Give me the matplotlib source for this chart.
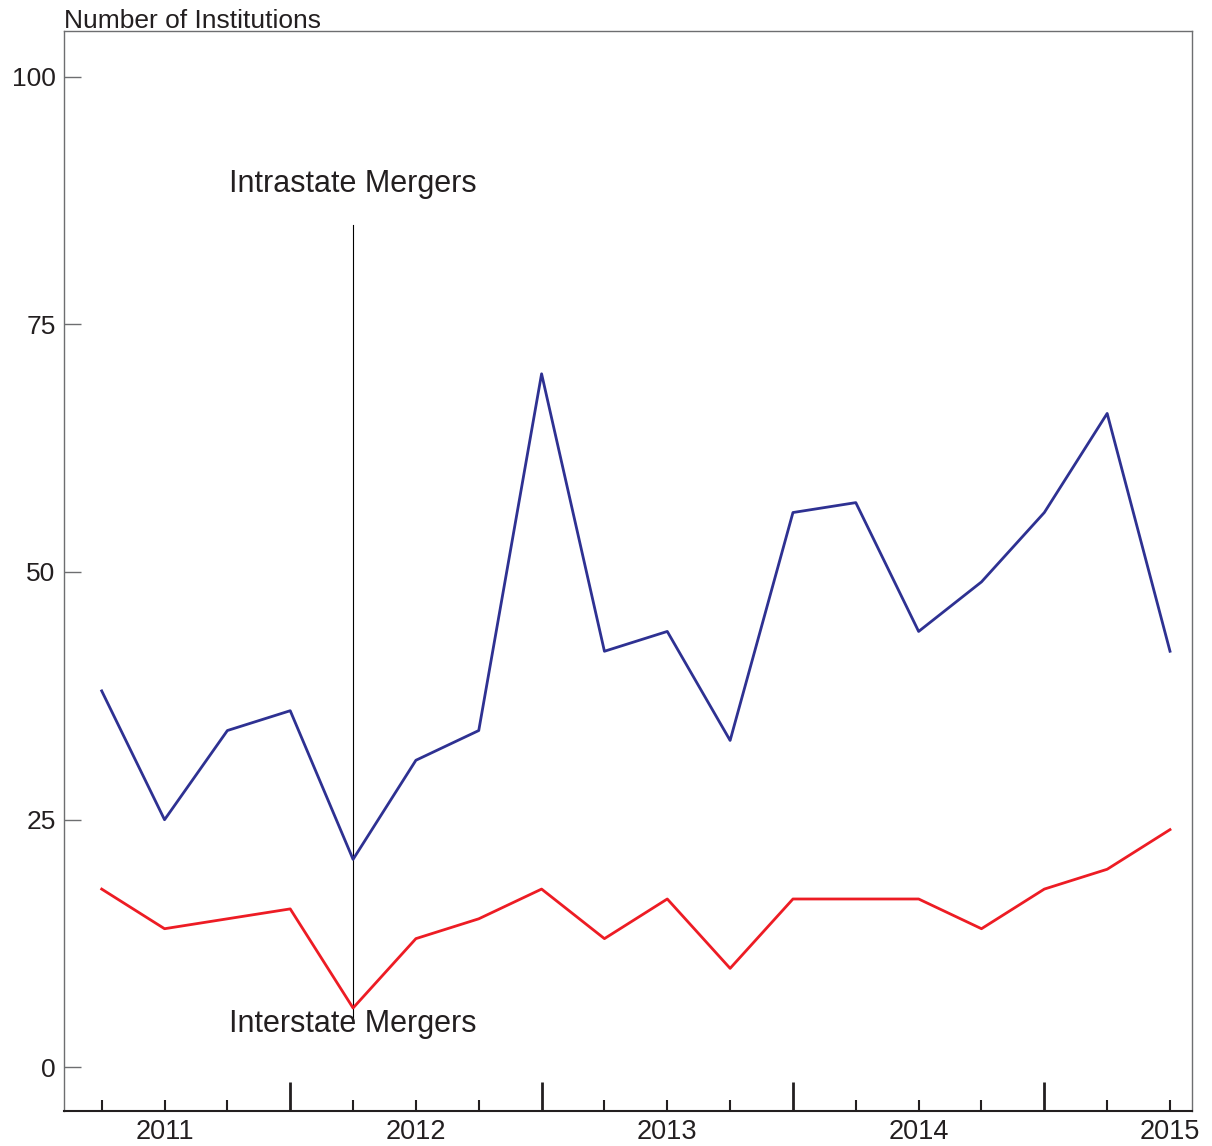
import matplotlib.pyplot as plt
import numpy as np

plt.rcParams['font.family'] = ['Liberation Sans', 'DejaVu Sans']

# quarterly, 2010 Q4 .. 2015 Q1
intrastate = [38, 25, 34, 36, 21, 31, 34, 70, 42, 44, 33, 56, 57, 44, 49, 56, 66, 42]
interstate = [18, 14, 15, 16, 6, 13, 15, 18, 13, 17, 10, 17, 17, 17, 14, 18, 20, 24]
year_labels = ["2011", "2012", "2013", "2014", "2015"]
year_pos = [1, 5, 9, 13, 17]
boundary_pos = [3, 7, 11, 15]
yticks = [0, 25, 50, 75, 100]

x = np.arange(len(intrastate))
txt = "#231f20"
spine = "#6d6e70"

fig = plt.figure(figsize=(12.12, 11.46), dpi=100)
ax = fig.add_axes([0.0528, 0.0305, 0.9307, 0.9425])

# marker line at the 2011 Q4 low
ax.plot([4, 4], [4.5, 85], color="black", lw=0.8, zorder=1)
ax.plot(x, intrastate, color="#2e3192", lw=2, zorder=2)
ax.plot(x, interstate, color="#ed1c24", lw=2, zorder=2)

ax.text(4, 89.2, "Intrastate Mergers", fontsize=22, color=txt,
        ha="center", va="center")
ax.text(4, 4.4, "Interstate Mergers", fontsize=22, color=txt,
        ha="center", va="center")

ax.set_xlim(-0.6, 17.35)
ax.set_ylim(-4.4, 104.6)

ax.set_yticks(yticks)
ax.set_yticklabels([str(v) for v in yticks])
ax.tick_params(axis="y", direction="in", length=12, width=1, color=spine,
               labelsize=19, labelcolor=txt, pad=6)

# long ticks at year boundaries, short ticks at every other quarter
ax.set_xticks(boundary_pos)
ax.set_xticklabels([""] * len(boundary_pos))
ax.tick_params(axis="x", which="major", direction="in", length=21,
               width=2, color=txt)
ax.set_xticks([i for i in x if i not in boundary_pos], minor=True)
ax.tick_params(axis="x", which="minor", direction="in", length=8,
               width=1.5, color=txt)
for lab, p in zip(year_labels, year_pos):
    ax.text(p, -7.2, lab, fontsize=19.5, color=txt, ha="center",
            va="baseline")

for s in ax.spines.values():
    s.set_color(spine)
    s.set_linewidth(1)
ax.spines["bottom"].set_color(txt)
ax.spines["bottom"].set_linewidth(1.5)

fig.text(0.0528, 1 - 28 / 1146, "Number of Institutions", fontsize=19,
         color=txt, ha="left", va="baseline")

fig.savefig("out.png", dpi=100)
